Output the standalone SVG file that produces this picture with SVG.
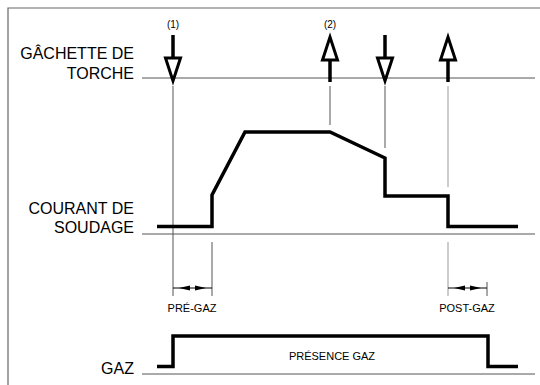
<svg xmlns="http://www.w3.org/2000/svg" width="540" height="385" viewBox="0 0 540 385">
<style>
.frame{stroke:#666;stroke-width:1.2;fill:none}
.thin{stroke:#555;stroke-width:1;fill:none}
.light{stroke:#aaa;stroke-width:1.2;fill:none}
.wave{stroke:#000;stroke-width:3.5;fill:none;stroke-linejoin:miter}
.shaft{stroke:#000;stroke-width:3.5;fill:none}
.head{stroke:#000;stroke-width:3;fill:#fff;stroke-linejoin:miter}
.lbl{font-family:"Liberation Sans",Arial,sans-serif;font-size:16px;fill:#000;text-anchor:end}
.sm{font-family:"Liberation Sans",Arial,sans-serif;font-size:11px;fill:#000;text-anchor:middle}
.num{font-family:"Liberation Sans",Arial,sans-serif;font-size:10px;fill:#000;text-anchor:middle}
.dim{stroke:#000;stroke-width:1;fill:none}
.tri{fill:#000}
</style>
<g id="frame">
<path class="frame" d="M8,385 V8 H540"/>
<line class="thin" x1="142" y1="78" x2="535" y2="78"/>
<line class="thin" x1="142" y1="234" x2="535" y2="234"/>
<line class="thin" x1="142" y1="374" x2="535" y2="374"/>
</g>
<g id="labels">
<text class="lbl" x="134" y="59">GÂCHETTE DE</text>
<text class="lbl" x="134" y="79">TORCHE</text>
<text class="lbl" x="134" y="214">COURANT DE</text>
<text class="lbl" x="134" y="233">SOUDAGE</text>
<text class="lbl" x="134" y="374">GAZ</text>
</g>
<g id="connectors">
<line class="thin" x1="173" y1="86" x2="173" y2="296"/>
<line class="thin" x1="330" y1="86" x2="330" y2="125"/>
<line class="thin" x1="385" y1="86" x2="385" y2="148"/>
<line class="light" x1="448" y1="86" x2="448" y2="187"/>
<line class="light" x1="448" y1="242" x2="448" y2="296"/>
<line class="thin" x1="212" y1="242" x2="212" y2="296"/>
<line class="thin" x1="487" y1="282" x2="487" y2="296"/>
</g>
<g id="trigger1">
<line class="shaft" x1="173" y1="35" x2="173" y2="58"/>
<path class="head" d="M165.5,58 H180.5 L173,81 Z"/>
<text class="num" x="173" y="28">(1)</text>
</g>
<g id="trigger2">
<line class="shaft" x1="330" y1="60" x2="330" y2="82"/>
<path class="head" d="M322.5,60 H337.5 L330,37 Z"/>
<text class="num" x="330" y="28">(2)</text>
</g>
<g id="trigger3">
<line class="shaft" x1="385" y1="35" x2="385" y2="58"/>
<path class="head" d="M377.5,58 H392.5 L385,81 Z"/>
</g>
<g id="trigger4">
<line class="shaft" x1="448" y1="60" x2="448" y2="82"/>
<path class="head" d="M440.5,60 H455.5 L448,37 Z"/>
</g>
<g id="current">
<path class="wave" d="M157,226.5 H212 V195 L245,132 H330 L385,158 V196 H448 V226.5 H518"/>
</g>
<g id="gas">
<path class="wave" d="M157,366.5 H173 V336 H488 V366.5 H518"/>
<text class="sm" x="332" y="360">PRÉSENCE GAZ</text>
</g>
<g id="pregaz">
<line class="dim" x1="173" y1="288" x2="212" y2="288"/>
<path class="tri" d="M179,288 L190,285.5 V290.5 Z"/>
<path class="tri" d="M206,288 L195,285.5 V290.5 Z"/>
<text class="sm" x="192" y="312">PRÉ-GAZ</text>
</g>
<g id="postgaz">
<line class="dim" x1="448" y1="288" x2="487" y2="288"/>
<path class="tri" d="M454,288 L465,285.5 V290.5 Z"/>
<path class="tri" d="M481,288 L470,285.5 V290.5 Z"/>
<text class="sm" x="467" y="312">POST-GAZ</text>
</g>
</svg>
